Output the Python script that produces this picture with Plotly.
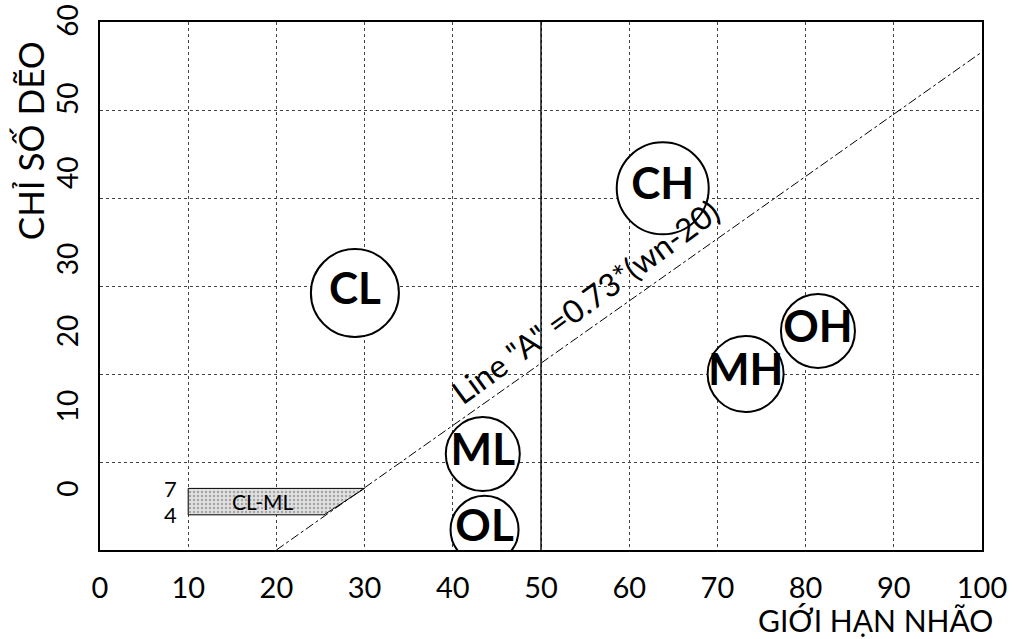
import plotly.graph_objects as go

# ---- data ----
group_names = ["CL", "CH", "ML", "OL", "MH", "OH"]
group_ll = [28.9, 63.8, 43.4, 43.6, 73.2, 81.4]      # liquid limit (circle centres)
group_pi = [29.2, 41.1, 10.9, 2.3, 20.0, 24.9]       # plasticity index
group_size = [88, 92, 74, 68, 76, 74]                # circle diameters (px)

a_line_ll = [20, 100]
a_line_pi = [0, 56.6]
a_line_label = 'Line "A" =0.73*(wn-20)'
a_label_pos = [55.0, 28.2]

u_split_ll = [50, 50]
u_split_pi = [0, 60]

clml_ll = [10, 10, 30, 25.4, 10]
clml_pi = [4, 7, 7, 4, 4]
clml_label = "CL-ML"
clml_bounds = [7, 4]

x_ticks = [0, 10, 20, 30, 40, 50, 60, 70, 80, 90, 100]
y_tick_text = ["0", "10", "20", "30", "40", "50", "60"]
y_tick_pos = [6.5, 15.9, 24.4, 32.6, 42.4, 50.8, 59.7]   # where the labels sit in the picture
y_grid = [10, 20, 30, 40, 50]

x_title = "GIỚI HẠN NHÃO"
y_title = "CHỈ SỐ DẼO"

FONT = "Lato"

fig = go.Figure()

# CL-ML zone
fig.add_trace(go.Scatter(
    x=clml_ll, y=clml_pi, mode="lines", fill="toself",
    line=dict(color="black", width=1),
    fillcolor="#d9d9d9",
    fillpattern=dict(shape=".", fgcolor="#6a6a6a", bgcolor="#e0e0e0", size=4, solidity=0.3),
    hoverinfo="skip", showlegend=False))

# A-line
fig.add_trace(go.Scatter(
    x=a_line_ll, y=a_line_pi, mode="lines",
    line=dict(color="black", width=1, dash="dashdot"),
    hoverinfo="skip", showlegend=False))

# LL = 50 divider
fig.add_trace(go.Scatter(
    x=u_split_ll, y=u_split_pi, mode="lines",
    line=dict(color="black", width=1.4),
    hoverinfo="skip", showlegend=False))

# soil group circles
fig.add_trace(go.Scatter(
    x=group_ll, y=group_pi, mode="markers+text",
    text=group_names, textposition="middle center",
    textfont=dict(family=FONT, size=44, color="black", weight="bold"),
    marker=dict(size=group_size, color="white", opacity=1, line=dict(color="black", width=2)),
    hoverinfo="skip", showlegend=False))

# annotations
ann = []
ann.append(dict(x=a_label_pos[0], y=a_label_pos[1],
                xref="x", yref="y", text=a_line_label, showarrow=False, textangle=-36,
                font=dict(family=FONT, size=32, color="black")))
ann.append(dict(x=(clml_ll[0] + clml_ll[2]) / 2 - 1.5, y=5.5, xref="x", yref="y", text=clml_label,
                showarrow=False, font=dict(family=FONT, size=21, color="black")))
for v in clml_bounds:
    ann.append(dict(x=clml_ll[0] - 1.0, y=v, xref="x", yref="y", text=str(v), showarrow=False,
                    xanchor="right", font=dict(family=FONT, size=22, color="black")))
ann.append(dict(x=1.015, y=-0.133, xref="paper", yref="paper", text=x_title, showarrow=False,
                xanchor="right", yanchor="middle", font=dict(family=FONT, size=30, color="black")))
ann.append(dict(x=-0.08, y=0.775, xref="paper", yref="paper", text=y_title, showarrow=False,
                textangle=-90, xanchor="center", yanchor="middle",
                font=dict(family=FONT, size=35, color="black")))

fig.update_layout(
    width=1020, height=639,
    margin=dict(l=100, r=38, t=22, b=89),
    paper_bgcolor="white", plot_bgcolor="white",
    annotations=ann,
    xaxis=dict(range=[0, 100], tickvals=x_ticks, ticktext=[str(v) for v in x_ticks],
               showgrid=True, gridcolor="#444", gridwidth=1, griddash="dot",
               showline=True, linecolor="black", linewidth=1.6, mirror=True,
               ticks="outside", ticklen=11, tickcolor="rgba(0,0,0,0)", automargin=False,
               tickfont=dict(family=FONT, size=29, color="black"), zeroline=False),
    yaxis=dict(range=[0, 60], tickvals=y_tick_pos, ticktext=y_tick_text, tickangle=-90,
               showgrid=False,
               minor=dict(tickvals=y_grid, showgrid=True, gridcolor="#444", gridwidth=1, griddash="dot"),
               showline=True, linecolor="black", linewidth=1.6, mirror=True,
               ticks="outside", ticklen=9, tickcolor="rgba(0,0,0,0)", automargin=False,
               tickfont=dict(family=FONT, size=28, color="black"), zeroline=False),
)

fig.write_html("out.html", config={"displayModeBar": False},
               post_script="document.body.style.margin='0';")
